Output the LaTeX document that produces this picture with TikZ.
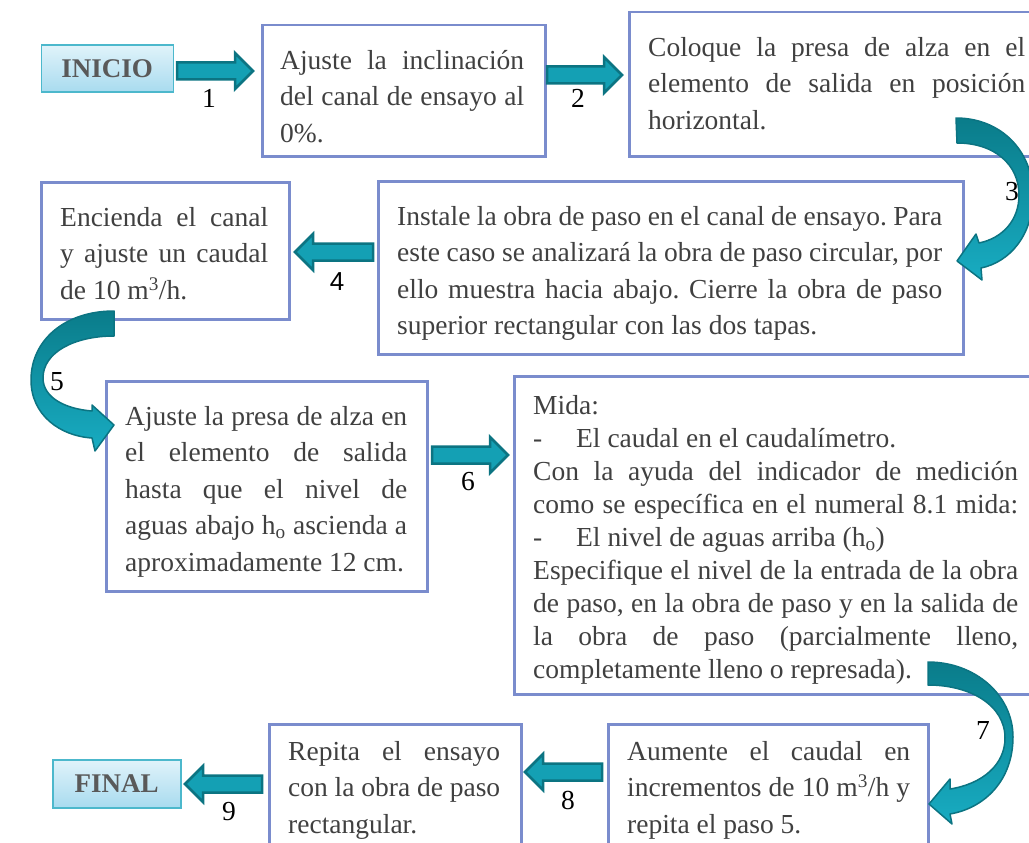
\documentclass[tikz,border=0pt]{standalone}
\usepackage{fontspec}
\setmainfont{Liberation Serif}
\newfontfamily\sansf{Liberation Sans}
\usetikzlibrary{calc}
\frenchspacing
\definecolor{boxc}{RGB}{122,140,205}
\definecolor{txtc}{RGB}{64,64,64}
\definecolor{arrf}{RGB}{20,160,180}
\definecolor{arrd}{RGB}{12,116,130}
\definecolor{cdark}{RGB}{10,124,138}
\definecolor{clight}{RGB}{24,172,194}
\definecolor{sbtop}{RGB}{224,243,250}
\definecolor{sbbot}{RGB}{168,219,239}
\definecolor{sbdraw}{RGB}{76,184,204}
\definecolor{sbtext}{RGB}{89,89,89}
\newcommand{\jl}[2]{\makebox[#1][s]{#2}}
\newcommand{\barR}[2]{\filldraw[blk] let \p1=(#1), \p2=(#2) in (\x1,\y1+8.5pt) -- (\x2-18pt,\y1+8.5pt) -- (\x2-18pt,\y1+18pt) -- (\x2,\y1) -- (\x2-18pt,\y1-18pt) -- (\x2-18pt,\y1-8.5pt) -- (\x1,\y1-8.5pt) -- cycle;}
\newcommand{\barL}[2]{\filldraw[blk] let \p1=(#1), \p2=(#2) in (\x1,\y1+8.5pt) -- (\x2+18pt,\y1+8.5pt) -- (\x2+18pt,\y1+18pt) -- (\x2,\y1) -- (\x2+18pt,\y1-18pt) -- (\x2+18pt,\y1-8.5pt) -- (\x1,\y1-8.5pt) -- cycle;}
\tikzset{
 stepbox/.style={draw=boxc, line width=2.5pt, anchor=north west, inner sep=0pt},
 txt/.style={anchor=north west, inner sep=0pt, align=left, text=txtc, font=\fontsize{27.5}{36.5}\selectfont},
 txtb/.style={txt, font=\fontsize{27.5}{33}\selectfont},
 endbox/.style={draw=sbdraw, line width=1.5pt, top color=sbtop, bottom color=sbbot, anchor=north west, inner sep=0pt, text=sbtext, font=\fontsize{27}{32}\selectfont\bfseries},
 lbl/.style={inner sep=0pt, font=\fontsize{27.5}{30}\selectfont},
 blk/.style={fill=arrf, draw=arrd, line width=2.5pt, line join=miter},
 curv/.style={top color=cdark, bottom color=clight, draw=arrd, line width=1.5pt, line join=round},
}
\begin{document}
\begin{tikzpicture}[x=1pt,y=-1pt]
\useasboundingbox (0,0) rectangle (1029,843);
% start / end boxes
\node[endbox, minimum width=132pt, minimum height=47pt] (ini) at (40.5,44.5) {INICIO};
\node[endbox, minimum width=128pt, minimum height=48pt] (fin) at (52,759) {FINAL};
% step boxes
\node[stepbox, minimum width=283pt, minimum height=131pt] (b1) at (261,24) {};
\node[stepbox, minimum width=420pt, minimum height=144pt] (b2) at (628,11) {};
\node[stepbox, minimum width=585pt, minimum height=173pt] (b3) at (377,180) {};
\node[stepbox, minimum width=248pt, minimum height=137pt] (b4) at (40,181) {};
\node[stepbox, minimum width=321pt, minimum height=210pt] (b5) at (105,380) {};
\node[stepbox, minimum width=530pt, minimum height=318pt] (b6) at (513,375) {};
\node[stepbox, minimum width=320pt, minimum height=140pt] (b7) at (607,723) {};
\node[stepbox, minimum width=252pt, minimum height=140pt] (b8) at (268,723) {};
% texts
\node[txt] (t1) at (280,43.5) {\strut\jl{244pt}{Ajuste la inclinación}\\\jl{244pt}{del canal de ensayo al}\\0\%.};
\node[txt] (t2) at (648,30.5) {\strut\jl{377pt}{Coloque la presa de alza en el}\\\jl{377pt}{elemento de salida en posición}\\horizontal.};
\node[txt] (t3) at (397,199.5) {\strut\jl{545pt}{Instale la obra de paso en el canal de ensayo. Para}\\\jl{545pt}{este caso se analizará la obra de paso circular, por}\\\jl{545pt}{ello muestra hacia abajo. Cierre la obra de paso}\\superior rectangular con las dos tapas.};
\node[txt] (t4) at (60,200.5) {\strut\jl{208pt}{Encienda el canal}\\\jl{208pt}{y ajuste un caudal}\\de 10 m\textsuperscript{3}/h.};
\node[txt] (t5) at (125,399.5) {\strut\jl{282pt}{Ajuste la presa de alza en}\\\jl{282pt}{el elemento de salida}\\\jl{282pt}{hasta que el nivel de}\\\jl{282pt}{aguas abajo h\textsubscript{o} ascienda a}\\aproximadamente 12 cm.};
\node[txtb] (t6) at (533,391) {\strut Mida:\\\makebox[43pt][l]{-}El caudal en el caudalímetro.\\\jl{485pt}{Con la ayuda del indicador de medición}\\\jl{485pt}{como se específica en el numeral 8.1 mida:}\\\makebox[43pt][l]{-}El nivel de aguas arriba (h\textsubscript{o})\\\jl{485pt}{Especifique el nivel de la entrada de la obra}\\\jl{485pt}{de paso, en la obra de paso y en la salida de}\\\jl{485pt}{la obra de paso (parcialmente lleno,}\\completamente lleno o represada).};
\node[txt] (t7) at (627,734.5) {\strut\jl{283pt}{Aumente el caudal en}\\\jl{283pt}{incrementos de 10 m\textsuperscript{3}/h y}\\repita el paso 5.};
\node[txt] (t8) at (288,734.5) {\strut\jl{212pt}{Repita el ensayo}\\\jl{212pt}{con la obra de paso}\\rectangular.};
% straight block arrows
\coordinate (a1s) at (177,71);  \coordinate (a1e) at (253,71);
\coordinate (a2s) at (547,75);  \coordinate (a2e) at (622,75);
\coordinate (a4s) at (373,252); \coordinate (a4e) at (295,252);
\coordinate (a6s) at (432,455); \coordinate (a6e) at (508,455);
\coordinate (a8s) at (602,772); \coordinate (a8e) at (525,772);
\coordinate (a9s) at (262,784); \coordinate (a9e) at (185,784);
\barR{a1s}{a1e}
\barR{a2s}{a2e}
\barL{a4s}{a4e}
\barR{a6s}{a6e}
\barL{a8s}{a8e}
\barL{a9s}{a9e}
% curved arrows
\filldraw[curv] (956,118) .. controls (1000,118) and (1033,150) .. (1033,195) .. controls (1033,235) and (1010,262) .. (981,268)
  -- (982,280) -- (957,261) -- (976,234) -- (979,243)
  .. controls (1003,238) and (1019,220) .. (1019,195) .. controls (1019,165) and (995,143) .. (957,143) -- cycle;
\filldraw[curv] (114,311) .. controls (65,311) and (31,340) .. (31,380) .. controls (31,415) and (60,436) .. (92,438)
  -- (95,451) -- (114,425) -- (92,405) -- (92,411)
  .. controls (66,409) and (43,398) .. (43,378) .. controls (43,352) and (75,336) .. (114,336) -- cycle;
\filldraw[curv] (928,662) .. controls (975,662) and (1013,695) .. (1013,737) .. controls (1013,780) and (985,808) .. (950,814)
  -- (952,824) -- (929,804) -- (950,779) -- (950,789)
  .. controls (982,784) and (1005,765) .. (1005,738) .. controls (1005,705) and (970,685) .. (928,685) -- cycle;
% step numbers
\node[lbl] (n1) at (209,98) {1};
\node[lbl] (n2) at (578,98) {2};
\node[lbl] (n3) at (1012,192) {3};
\node[lbl, font=\fontsize{26}{30}\selectfont\sansf] (n4) at (337,282) {4};
\node[lbl] (n5) at (57,382) {5};
\node[lbl] (n6) at (468,482) {6};
\node[lbl] (n7) at (983,730) {7};
\node[lbl] (n8) at (568,800) {8};
\node[lbl] (n9) at (229,812) {9};
\end{tikzpicture}
\end{document}
